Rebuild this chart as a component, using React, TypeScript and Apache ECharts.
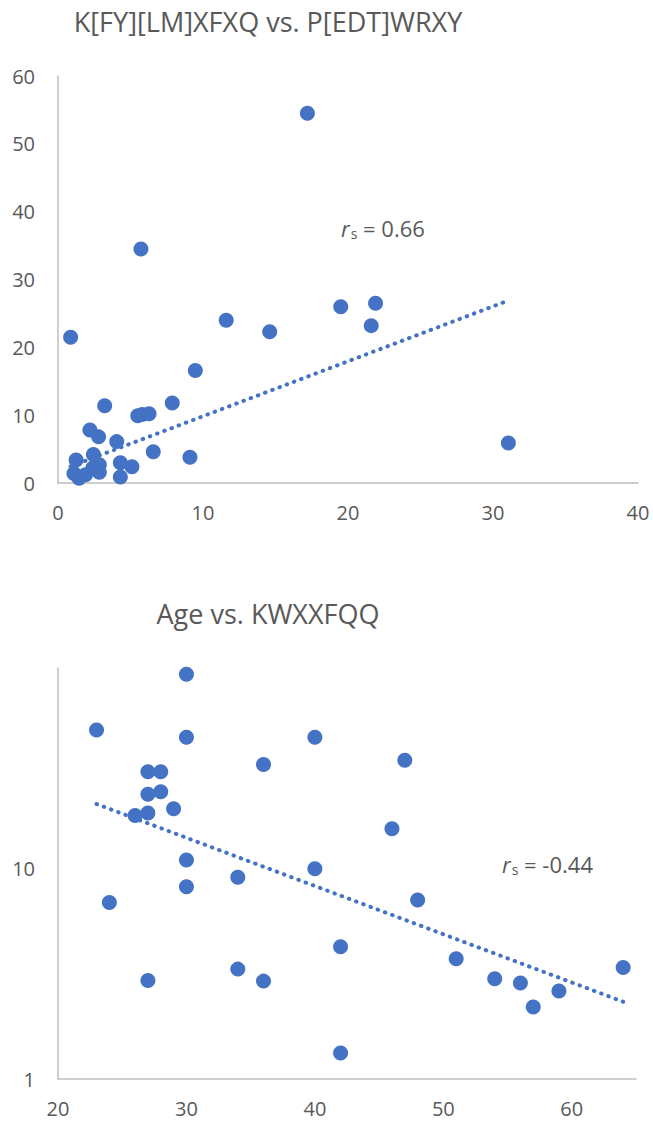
import React, { useEffect, useRef } from "react";
import * as echarts from "echarts";

const titleTop = "K[FY][LM]XFXQ vs. P[EDT]WRXY";
const titleBottom = "Age vs. KWXXFQQ";

const topX = [17.2, 5.72, 0.87, 11.6, 14.6, 19.5, 21.9, 21.6, 31.06, 9.47, 3.22, 7.88, 5.5, 5.8, 6.28, 2.2, 2.8, 4.05, 6.57, 9.1, 2.44, 1.25, 4.3, 5.1, 2.85, 2.85, 4.3, 1.1, 1.45, 1.9, 2.4];
const topY = [54.5, 34.5, 21.5, 24.0, 22.3, 26.0, 26.5, 23.2, 5.9, 16.6, 11.4, 11.8, 9.9, 10.1, 10.2, 7.8, 6.8, 6.1, 4.6, 3.8, 4.2, 3.4, 3.0, 2.4, 2.7, 1.6, 0.9, 1.4, 0.7, 1.2, 2.2];
const topTrendX = [0.87, 31.06];
const topTrendY = [2.45, 26.9];
const rsTop = "0.66";

const bottomAge = [30, 23, 30, 40, 36, 27, 28, 27, 28, 29, 26, 27, 30, 34, 40, 30, 24, 27, 34, 36, 47, 46, 48, 42, 51, 54, 56, 57, 59, 64, 42];
const bottomVal = [84, 45.7, 42.2, 42.2, 31.3, 28.9, 28.9, 22.6, 23.2, 19.3, 17.9, 18.4, 11.0, 9.1, 10.0, 8.2, 6.9, 2.94, 3.33, 2.92, 32.8, 15.5, 7.1, 4.25, 3.73, 3.0, 2.86, 2.2, 2.62, 3.39, 1.33];
const bottomTrendX = [23, 64];
const bottomTrendY = [20.3, 2.33];
const rsBottom = "-0.44";

const FONT = "'Open Sans', sans-serif";
const TEXT = "#595959";
const AXIS = "#bfbfbf";
const BLUE = "#4472C4";

function axisBase(extra: any) {
  return {
    axisLine: { show: true, onZero: false, lineStyle: { color: AXIS, width: 1.5 } },
    axisTick: { show: false },
    splitLine: { show: false },
    ...extra,
  };
}

function rsText(x: number, y: number, val: string) {
  return {
    type: "text",
    x,
    y,
    style: {
      text: "{r|r}{s|s}{t| = " + val + "}",
      verticalAlign: "middle",
      fill: TEXT,
      rich: {
        r: { fontStyle: "italic", fontSize: 22, fontFamily: FONT, fill: TEXT },
        s: { fontSize: 14, fontFamily: FONT, fill: TEXT, padding: [11, 0, 0, 1] },
        t: { fontSize: 22, fontFamily: FONT, fill: TEXT },
      },
    },
  };
}

export default function App() {
  const ref = useRef<HTMLDivElement>(null);
  useEffect(() => {
    document.body.style.margin = "0";
    document.body.style.overflow = "hidden";
    const chart = echarts.init(ref.current!, undefined, { renderer: "svg" });
    const labelStyle = { color: TEXT, fontSize: 20, fontFamily: FONT };
    const trendStyle = { color: BLUE, width: 4, type: [0.5, 7.2], cap: "round" };
    chart.setOption({
      animation: false,
      backgroundColor: "#ffffff",
      grid: [
        { left: 58, top: 76, width: 580, height: 407 },
        { left: 58, top: 668, width: 578, height: 411 },
      ],
      xAxis: [
        axisBase({ type: "value", gridIndex: 0, min: 0, max: 40, interval: 10, axisLabel: { ...labelStyle, margin: 19 } }),
        axisBase({ type: "value", gridIndex: 1, min: 20, max: 65, interval: 10, axisLabel: { ...labelStyle, margin: 19, showMaxLabel: false } }),
      ],
      yAxis: [
        axisBase({ type: "value", gridIndex: 0, min: 0, max: 60, interval: 10, axisLabel: { ...labelStyle, margin: 23 } }),
        axisBase({ type: "log", logBase: 10, gridIndex: 1, min: 1, max: 90, axisLabel: { ...labelStyle, margin: 23, showMaxLabel: false } }),
      ],
      series: [
        {
          type: "line",
          xAxisIndex: 0,
          yAxisIndex: 0,
          data: topTrendX.map((x, i) => [x, topTrendY[i]]),
          symbol: "none",
          z: 1,
          lineStyle: trendStyle,
        },
        {
          type: "scatter",
          xAxisIndex: 0,
          yAxisIndex: 0,
          data: topX.map((x, i) => [x, topY[i]]),
          symbolSize: 15,
          z: 3,
          itemStyle: { color: BLUE, opacity: 1 },
        },
        {
          type: "line",
          xAxisIndex: 1,
          yAxisIndex: 1,
          data: bottomTrendX.map((x, i) => [x, bottomTrendY[i]]),
          symbol: "none",
          z: 1,
          lineStyle: trendStyle,
        },
        {
          type: "scatter",
          xAxisIndex: 1,
          yAxisIndex: 1,
          data: bottomAge.map((x, i) => [x, bottomVal[i]]),
          symbolSize: 15,
          z: 3,
          itemStyle: { color: BLUE, opacity: 1 },
        },
      ],
      graphic: [
        {
          type: "text",
          x: 268,
          y: 21,
          style: { text: titleTop, fontSize: 27, fontFamily: FONT, fill: TEXT, align: "center", verticalAlign: "middle" },
        },
        {
          type: "text",
          x: 268,
          y: 613,
          style: { text: titleBottom, fontSize: 27, fontFamily: FONT, fill: TEXT, align: "center", verticalAlign: "middle" },
        },
        rsText(341, 228, rsTop),
        rsText(502, 864, rsBottom),
      ],
    });
    return () => chart.dispose();
  }, []);
  return <div ref={ref} style={{ width: 653, height: 1124 }} />;
}
